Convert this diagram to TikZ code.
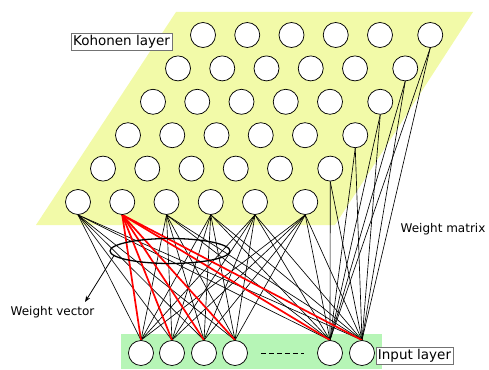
\documentclass[tikz,border=0pt]{standalone}
\usepackage{fontspec}
\setmainfont{DejaVu Sans}
\usetikzlibrary{arrows.meta,calc,shapes.geometric}
\definecolor{kohonenyellow}{RGB}{242,250,168}
\definecolor{inputgreen}{RGB}{182,245,182}
\pgfdeclarelayer{back}
\pgfdeclarelayer{wires}
\pgfsetlayers{back,wires,main}
\tikzset{
  neuron/.style={draw,circle,fill=white,minimum size=25pt,inner sep=0pt,line width=0.75pt},
  link/.style={line width=0.65pt},
  winner/.style={red,line width=1.7pt},
  tag/.style={draw=black!55,fill=white,inner sep=2pt,font=\fontsize{13.5}{16}\selectfont},
  caption/.style={font=\fontsize{12}{14}\selectfont}
}

\begin{document}
\begin{tikzpicture}[x=1pt,y=-1pt]
\useasboundingbox (0,0) rectangle (489,369);
% Kohonen grid, 6 x 6
\foreach \r in {1,...,6}{
  \foreach \c in {1,...,6}{
    \pgfmathsetmacro{\xx}{203-25*(\r-1)+44.25*(\c-1)+(\c==6)*6}
    \node[neuron] (k\r\c) at (\xx,{35+33.4*(\r-1)}) {};
  }
}
% input neurons
\foreach \n/\xx in {1/141,2/172,3/204,4/235,5/330,6/362}
  \node[neuron] (i\n) at (\xx,353) {};
\draw[dash pattern=on 5pt off 3pt,line width=0.8pt] ($(i4.east)+(13,0)$) -- ($(i5.west)+(-13,0)$);

\begin{pgfonlayer}{back}
\fill[kohonenyellow] (176,12) -- (473,12) -- (335,225) -- (36,225) -- cycle;
\fill[inputgreen] (121,334) rectangle (382,369);
\end{pgfonlayer}

\begin{pgfonlayer}{wires}
\foreach \c in {1,3,4,5,6}
  \foreach \n in {1,...,6}
    \draw[link] (k6\c.south) -- (i\n.north);
\foreach \r in {1,...,5}
  \foreach \n in {5,6}
    \draw[link] (k\r6.south) -- (i\n.north);
\foreach \n in {1,...,6}
  \draw[winner] (k62.south) -- (i\n.north);
\end{pgfonlayer}

\node[draw,ellipse,minimum width=120pt,minimum height=25pt,line width=1.3pt] (wv) at (170,251) {};
\coordinate (wvtip) at (85,302);
\draw[-{Stealth[length=6pt]},line width=0.8pt] (wv.185) -- (wvtip);

\node[tag] (koh) at (121.5,41.5) {Kohonen layer};
\node[tag] (inp) at (414.5,356) {Input layer};
\node[caption] (wm) at (443,229) {Weight matrix};
\node[caption] (wvl) at (52.5,312) {Weight vector};
\end{tikzpicture}
\end{document}
